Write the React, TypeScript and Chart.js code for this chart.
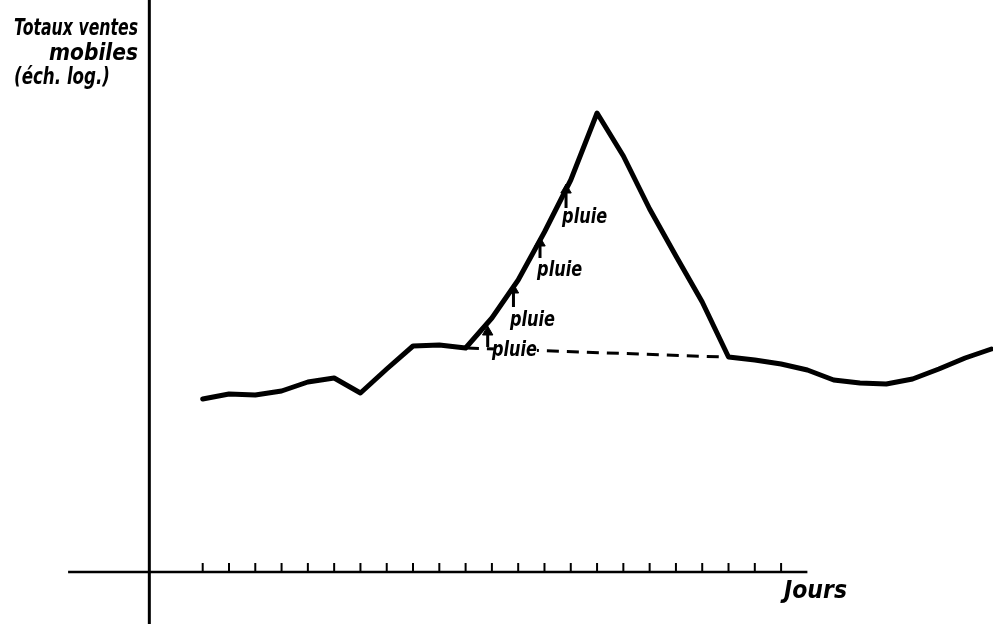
import React, { useEffect, useRef } from "react";
import { Chart, registerables } from "chart.js";

Chart.register(...registerables);

// Days along the x axis (one per tick) and the moving totals (relative units, log scale in the original)
const DAYS = [0, 1, 2, 3, 4, 5, 6, 7, 8, 9, 10, 11, 12, 13, 14, 15, 16, 17, 18, 19, 20, 21, 22, 23, 24, 25, 26, 27, 28, 29, 30];
const SALES = [173, 178, 177, 181, 190, 194, 179, 203, 226, 227, 224, 254, 292, 340, 392, 459, 416, 363, 316, 270, 215, 212, 208, 202, 192, 189, 188, 193, 203, 214, 223];

// Tick days on the "Jours" axis
const TICK_DAYS = [0, 1, 2, 3, 4, 5, 6, 7, 8, 9, 10, 11, 12, 13, 14, 15, 16, 17, 18, 19, 20, 21, 22];

// Dashed baseline (expected level without rain)
const BASE_X = [10.05, 19.8];
const BASE_Y = [224, 215];

// Rain arrows
const ARROW_X = [10.84, 11.82, 12.83, 13.82];
const ARROW_TIP = [245, 287, 334, 387];
const ARROW_BASE = [225, 265, 314, 364];

// "pluie" labels
const PLUIE_X = [11.0, 11.69, 12.72, 13.67];
const PLUIE_Y = [221, 251, 301, 354];
const PLUIE_TEXT = "pluie";

// Axis extents (in data units)
const X_MIN = -7.71;
const X_MAX = 30.06;
const Y_MIN = -52;
const Y_MAX = 572;
const XAXIS_FROM = -5.12;
const XAXIS_TO = 23.0;
const YAXIS_AT = -2.03;

const TITLE_LINES = ["Totaux ventes", "mobiles", "(éch. log.)"];
const X_TITLE = "Jours";

const FONT_FAMILY = '"DejaVu Sans", "Liberation Sans", sans-serif';

// Draws text starting at x (left edge), squeezed horizontally to the given width (condensed look)
function drawFit(ctx: any, text: string, x: number, y: number, width: number, knockout = false) {
  const w = ctx.measureText(text).width || 1;
  const s = Math.min(1, width / w);
  ctx.save();
  ctx.translate(x, y);
  ctx.scale(s, 1);
  ctx.textAlign = "left";
  if (knockout) {
    ctx.save();
    ctx.fillStyle = "#fff";
    ctx.fillRect(2 / s, -7, w - 2 / s, 14);
    ctx.restore();
  }
  ctx.fillText(text, 0, 0);
  ctx.restore();
}

export default function App() {
  const canvasRef = useRef<HTMLCanvasElement | null>(null);

  useEffect(() => {
    const canvas = canvasRef.current;
    if (!canvas) return;

    const shaftData: any[] = [];
    ARROW_X.forEach((x, i) => {
      shaftData.push({ x, y: ARROW_BASE[i] });
      shaftData.push({ x, y: ARROW_TIP[i] - 6 });
      shaftData.push({ x, y: null });
    });

    const textPlugin = {
      id: "texts",
      afterDatasetsDraw(chart: any) {
        const ctx = chart.ctx;
        const xs = chart.scales.x;
        const ys = chart.scales.y;
        ctx.save();
        ctx.fillStyle = "#000";
        ctx.textBaseline = "middle";
        ctx.font = `italic bold 21px ${FONT_FAMILY}`;
        PLUIE_X.forEach((x, i) => {
          drawFit(ctx, PLUIE_TEXT, xs.getPixelForValue(x), ys.getPixelForValue(PLUIE_Y[i]), 45, i === 0);
        });
        // axis titles
        ctx.textBaseline = "alphabetic";
        ctx.font = `italic bold 23px ${FONT_FAMILY}`;
        drawFit(ctx, TITLE_LINES[0], 14, 35, 124);
        drawFit(ctx, TITLE_LINES[1], 49, 60, 89);
        drawFit(ctx, TITLE_LINES[2], 14, 84, 96);
        ctx.font = `italic bold 25px ${FONT_FAMILY}`;
        drawFit(ctx, X_TITLE, 784, 598, 63);
        ctx.restore();
      },
    };

    const chart = new Chart(canvas, {
      type: "line",
      data: {
        datasets: [
          {
            label: "ventes",
            data: DAYS.map((d, i) => ({ x: d, y: SALES[i] })),
            borderColor: "#000",
            borderWidth: 5,
            borderJoinStyle: "round",
            borderCapStyle: "round",
            pointRadius: 0,
            tension: 0,
            clip: false,
          } as any,
          {
            label: "base",
            data: BASE_X.map((x, i) => ({ x, y: BASE_Y[i] })),
            borderColor: "#000",
            borderWidth: 3,
            borderDash: [12, 8],
            pointRadius: 0,
          },
          {
            label: "axe x",
            data: [
              { x: XAXIS_FROM, y: 0 },
              { x: XAXIS_TO, y: 0 },
            ],
            borderColor: "#000",
            borderWidth: 2.5,
            pointRadius: 0,
          },
          {
            label: "axe y",
            data: [
              { x: YAXIS_AT, y: Y_MIN },
              { x: YAXIS_AT, y: Y_MAX },
            ],
            borderColor: "#000",
            borderWidth: 3,
            pointRadius: 0,
          },
          {
            label: "ticks",
            type: "scatter",
            data: TICK_DAYS.map((d) => ({ x: d, y: 4.5 })),
            pointStyle: "line",
            rotation: 90,
            pointRadius: 4.5,
            pointBorderWidth: 2,
            borderColor: "#000",
            backgroundColor: "#000",
            showLine: false,
          } as any,
          {
            label: "flèches",
            data: shaftData,
            borderColor: "#000",
            borderWidth: 3,
            pointRadius: 0,
            spanGaps: false,
          },
          {
            label: "pointes",
            type: "scatter",
            data: ARROW_X.map((x, i) => ({ x, y: ARROW_TIP[i] - 5 })),
            pointStyle: "triangle",
            pointRadius: 6,
            pointBorderWidth: 1,
            borderColor: "#000",
            backgroundColor: "#000",
            showLine: false,
          } as any,
        ],
      },
      options: {
        animation: false,
        responsive: false,
        maintainAspectRatio: false,
        layout: { padding: 0, autoPadding: false },
        events: [],
        plugins: {
          legend: { display: false },
          tooltip: { enabled: false },
          title: { display: false },
        },
        scales: {
          x: { type: "linear", min: X_MIN, max: X_MAX, display: false },
          y: { type: "linear", min: Y_MIN, max: Y_MAX, display: false },
        },
      },
      plugins: [textPlugin],
    });

    return () => chart.destroy();
  }, []);

  return (
    <div style={{ position: "fixed", left: 0, top: 0, width: 993, height: 624, background: "#fff" }}>
      <canvas ref={canvasRef} width={993} height={624} style={{ width: 993, height: 624, display: "block" }} />
    </div>
  );
}
